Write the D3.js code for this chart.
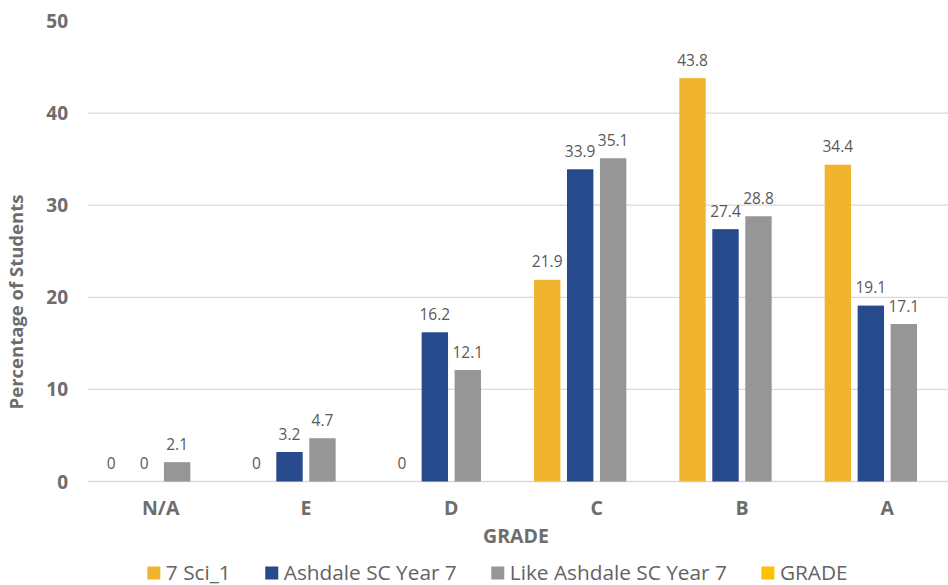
<!DOCTYPE html>
<html>
<head>
<meta charset="utf-8">
<script src="https://cdn.jsdelivr.net/npm/d3@7"></script>
<style>
  body { margin: 0; background: #fff; }
  text { font-family: "Open Sans", sans-serif; }
</style>
</head>
<body>
<script>

// chart data
let grades = ["N/A", "E", "D", "C", "B", "A"];
let seriesNames = ["7 Sci_1", "Ashdale SC Year 7", "Like Ashdale SC Year 7", "GRADE"];
let sci1 = [0, 0, 0, 21.9, 43.8, 34.4];
let ashdale = [0, 3.2, 16.2, 33.9, 27.4, 19.1];
let likeAshdale = [2.1, 4.7, 12.1, 35.1, 28.8, 17.1];
let gradeSeries = [null, null, null, null, null, null];
let yTicks = [0, 10, 20, 30, 40, 50];

let colors = ["#f1b42f", "#264a8b", "#969696", "#ffc000"];
let seriesValues = [sci1, ashdale, likeAshdale, gradeSeries];

let width = 948,
    height = 585;

let svg = d3.select("body").append("svg")
    .attr("width", width)
    .attr("height", height);

let x0 = d3.scaleBand()
    .domain(grades)
    .range([88, 960]);

// 4 slots per grade, the last (GRADE) one stays empty
let x1 = d3.scaleBand()
    .domain(seriesNames)
    .range([10, 135.3])
    .paddingInner(0.2);

let y = d3.scaleLinear()
    .domain([0, 50])
    .range([481.5, 21]);

// gridlines (none at the top)
svg.append("g")
    .selectAll("line")
    .data(yTicks.filter(d => d < 50))
    .enter().append("line")
    .attr("x1", 88)
    .attr("x2", width)
    .attr("y1", d => y(d))
    .attr("y2", d => y(d))
    .attr("stroke", "#d9d9d9")
    .attr("stroke-width", 1.3);

// y tick labels
svg.append("g")
    .selectAll("text")
    .data(yTicks)
    .enter().append("text")
    .attr("x", 68)
    .attr("y", d => y(d) + 7)
    .attr("text-anchor", "end")
    .style("font-size", "19px")
    .style("font-weight", "bold")
    .style("fill", "#6d6d6d")
    .text(d => d);

// bars
let groups = svg.append("g")
    .selectAll("g")
    .data(grades)
    .enter().append("g")
    .attr("transform", d => "translate(" + x0(d) + ",0)");

let cells = groups.selectAll("g")
    .data((g, i) => seriesNames.map((s, j) => ({series: s, idx: j, value: seriesValues[j][i]})))
    .enter().append("g")
    .filter(d => d.value !== null);

cells.append("rect")
    .attr("x", d => x1(d.series))
    .attr("width", x1.bandwidth())
    .attr("y", d => y(d.value))
    .attr("height", d => y(0) - y(d.value))
    .attr("fill", d => colors[d.idx]);

cells.append("text")
    .attr("x", d => x1(d.series) + x1.bandwidth() / 2)
    .attr("y", d => y(d.value) - 12.5)
    .attr("text-anchor", "middle")
    .style("font-size", "15.5px")
    .style("fill", "#595959")
    .text(d => d.value);

// category labels
svg.append("g")
    .selectAll("text")
    .data(grades)
    .enter().append("text")
    .attr("x", d => x0(d) + x0.bandwidth() / 2)
    .attr("y", 515)
    .attr("text-anchor", "middle")
    .style("font-size", "19.5px")
    .style("font-weight", "bold")
    .style("fill", "#6d6d6d")
    .text(d => d);

// axis titles
svg.append("text")
    .attr("x", 516)
    .attr("y", 543)
    .attr("text-anchor", "middle")
    .style("font-size", "19.5px")
    .style("font-weight", "bold")
    .style("fill", "#6d6d6d")
    .text("GRADE");

svg.append("text")
    .attr("transform", "translate(23,302) rotate(-90)")
    .attr("text-anchor", "middle")
    .style("font-size", "18.5px")
    .style("font-weight", "bold")
    .style("fill", "#6d6d6d")
    .text("Percentage of Students");

// legend, laid out by measured text width and centred
let legend = svg.append("g");
let pos = 0;
seriesNames.forEach(function(name, i) {
  let item = legend.append("g").attr("transform", "translate(" + pos + ",0)");
  item.append("rect")
      .attr("x", 0)
      .attr("y", 566.5)
      .attr("width", 13)
      .attr("height", 13)
      .attr("fill", colors[i]);
  let t = item.append("text")
      .attr("x", 18.5)
      .attr("y", 580)
      .style("font-size", "20.8px")
      .style("fill", "#636363")
      .text(name);
  pos += 18.5 + t.node().getComputedTextLength() + 34.5;
});
let legendWidth = pos - 34.5;
legend.attr("transform", "translate(" + (497.5 - legendWidth / 2) + ",0)");

</script>
</body>
</html>
